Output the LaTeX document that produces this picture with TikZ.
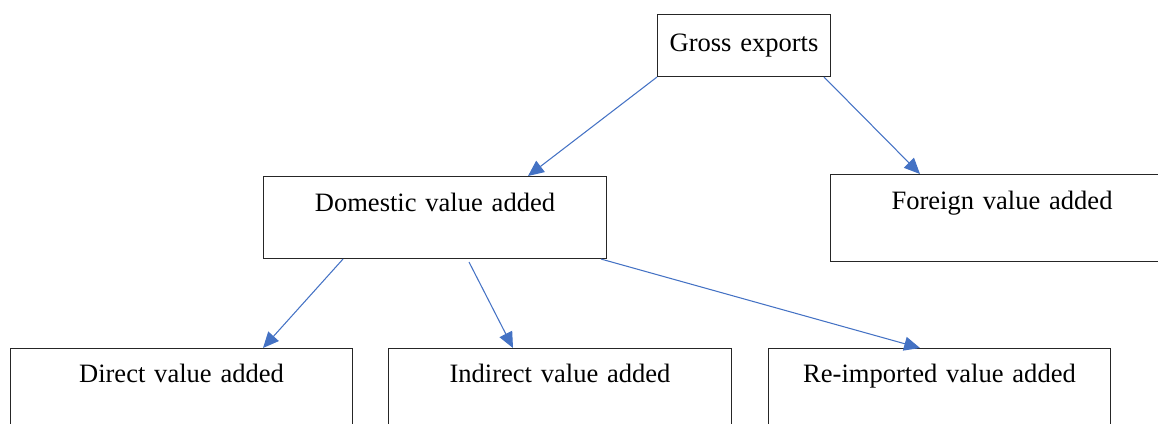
\documentclass[tikz,border=0pt]{standalone}
\usepackage{fontspec}
\setmainfont{Liberation Serif}
\usetikzlibrary{arrows.meta,calc}
\definecolor{linkblue}{RGB}{68,114,196}
\tikzset{
    vabox/.style={draw=black!85, line width=0.6pt, anchor=north west,
        inner xsep=0pt, inner ysep=0pt, text width=#1, align=center,
        font=\fontsize{15.1}{18}\selectfont},
    lowbox/.style={text height=0.68cm, text depth=2cm},
    link/.style={draw=linkblue, line width=0.6pt, -{Triangle[length=9pt,width=8pt]}}
}
\begin{document}
\begin{tikzpicture}[x=0.02cm, y=-0.02cm]
    % Page frame
    \path [use as bounding box, clip] (0,0) rectangle (1158,423);

    % Boxes
    \node [vabox=3.46cm, text height=0.74cm, text depth=0.5cm] (gross) at (657,14) {Gross exports};
    \node [vabox=6.86cm, text height=0.7cm, text depth=0.94cm] (dom) at (263,176) {Domestic value added};
    \node [vabox=6.86cm, text height=0.7cm, text depth=1.04cm] (forn) at (830,174) {Foreign value added};
    \node [vabox=6.84cm, lowbox] (dir) at (10,348) {Direct value added};
    \node [vabox=6.86cm, lowbox] (indir) at (388,348) {Indirect value added};
    \node [vabox=6.84cm, lowbox] (reimp) at (768,348) {Re-imported value added};

    % Draw arrows
    \draw [link] (gross.south west) -- ($(dom.north west)+(265,0)$);
    \draw [link] ($(gross.south east)+(-7,0)$) -- ($(forn.north west)+(90,0)$);
    \draw [link] ($(dom.south west)+(80,0)$) -- ($(dir.north west)+(253,0)$);
    \draw [link] ($(dom.south west)+(206,3)$) -- ($(indir.north west)+(125,0)$);
    \draw [link] ($(dom.south east)+(-6,0)$) -- ($(reimp.north west)+(152,0)$);
\end{tikzpicture}
\end{document}
